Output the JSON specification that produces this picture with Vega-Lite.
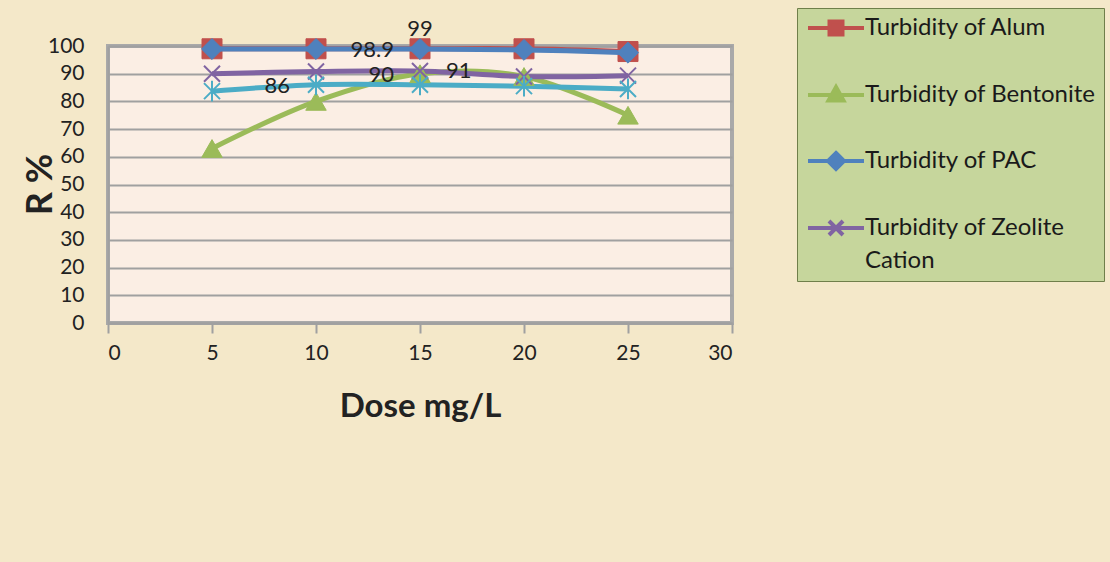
{
  "$schema": "https://vega.github.io/schema/vega-lite/v6.json",
  "width": 624,
  "height": 277,
  "autosize": {"type": "none"},
  "padding": {"left": 108, "top": 46, "right": 378, "bottom": 239},
  "background": "#f4e8c9",
  "config": {
    "font": "Lato",
    "view": {"fill": "#fbeee4", "stroke": "#a9a9a9", "strokeWidth": 4},
    "axis": {"labelFont": "Lato", "titleFont": "Lato", "labelColor": "#222222", "titleColor": "#222222"},
    "style": {"guide-label": {"lineHeight": 33}}
  },
  "data": {
    "values": [
      {"dose": 5, "series": "Turbidity of Alum", "r": 99, "labeled": false},
      {"dose": 10, "series": "Turbidity of Alum", "r": 99, "labeled": false},
      {"dose": 15, "series": "Turbidity of Alum", "r": 99, "labeled": true},
      {"dose": 20, "series": "Turbidity of Alum", "r": 99, "labeled": false},
      {"dose": 25, "series": "Turbidity of Alum", "r": 98, "labeled": false},
      {"dose": 5, "series": "Turbidity of Bentonite", "r": 63, "labeled": false},
      {"dose": 10, "series": "Turbidity of Bentonite", "r": 80, "labeled": false},
      {"dose": 15, "series": "Turbidity of Bentonite", "r": 90, "labeled": true},
      {"dose": 20, "series": "Turbidity of Bentonite", "r": 89, "labeled": false},
      {"dose": 25, "series": "Turbidity of Bentonite", "r": 75, "labeled": false},
      {"dose": 5, "series": "Turbidity of PAC", "r": 98.9, "labeled": false},
      {"dose": 10, "series": "Turbidity of PAC", "r": 98.9, "labeled": false},
      {"dose": 15, "series": "Turbidity of PAC", "r": 98.9, "labeled": true},
      {"dose": 20, "series": "Turbidity of PAC", "r": 98.6, "labeled": false},
      {"dose": 25, "series": "Turbidity of PAC", "r": 97.6, "labeled": false},
      {"dose": 5, "series": "Turbidity of Zeolite Cation", "r": 90, "labeled": false},
      {"dose": 10, "series": "Turbidity of Zeolite Cation", "r": 90.8, "labeled": false},
      {"dose": 15, "series": "Turbidity of Zeolite Cation", "r": 91, "labeled": true},
      {"dose": 20, "series": "Turbidity of Zeolite Cation", "r": 89, "labeled": false},
      {"dose": 25, "series": "Turbidity of Zeolite Cation", "r": 89.3, "labeled": false},
      {"dose": 5, "series": "Turbidity of Zeolite Anion", "r": 83.7, "labeled": false},
      {"dose": 10, "series": "Turbidity of Zeolite Anion", "r": 86, "labeled": true},
      {"dose": 15, "series": "Turbidity of Zeolite Anion", "r": 86, "labeled": false},
      {"dose": 20, "series": "Turbidity of Zeolite Anion", "r": 85.5, "labeled": false},
      {"dose": 25, "series": "Turbidity of Zeolite Anion", "r": 84.5, "labeled": false}
    ]
  },
  "encoding": {
    "x": {
      "field": "dose", "type": "quantitative",
      "scale": {"domain": [0, 30], "nice": false},
      "axis": {
        "title": "Dose mg/L", "values": [0, 5, 10, 15, 20, 25, 30],
        "grid": false, "domainColor": "#a0a0a0", "domainWidth": 2,
        "tickColor": "#a0a0a0", "tickWidth": 2, "tickSize": 10,
        "labelFontSize": 21, "labelPadding": 9,
        "titleFontSize": 33, "titleFontWeight": "bold", "titlePadding": 27
      }
    },
    "y": {
      "field": "r", "type": "quantitative",
      "scale": {"domain": [0, 100], "nice": false},
      "axis": {
        "title": "R %", "values": [0, 10, 20, 30, 40, 50, 60, 70, 80, 90, 100],
        "grid": true, "gridColor": "#a0a0a0", "gridWidth": 2,
        "domainColor": "#a0a0a0", "domainWidth": 2, "ticks": false,
        "labelFontSize": 21, "labelPadding": 24,
        "titleFontSize": 36, "titleFontWeight": "bold",
        "titleAngle": -90, "titleX": -68, "titleY": 138,
        "titleAlign": "center", "titleBaseline": "middle"
      }
    }
  },
  "layer": [
    {
      "transform": [{"filter": "datum.series == 'Turbidity of Alum'"}],
      "mark": {"type": "point", "shape": "square", "filled": true, "size": 400, "opacity": 1, "strokeWidth": 1},
      "encoding": {
        "color": {"field": "series", "type": "nominal",
          "scale": {"domain": ["Turbidity of Alum", "Turbidity of Bentonite", "Turbidity of PAC", "Turbidity of Zeolite Cation", "Turbidity of Zeolite Anion"],
                    "range": ["#c0504d", "#9bbb59", "#4f81bd", "#8064a2", "#4bacc6"]}},
        "stroke": {"field": "series", "type": "nominal",
          "scale": {"domain": ["Turbidity of Alum", "Turbidity of Bentonite", "Turbidity of PAC", "Turbidity of Zeolite Cation", "Turbidity of Zeolite Anion"],
                    "range": ["#c0504d", "#9bbb59", "#4f81bd", "#8064a2", "#4bacc6"]}}
      }
    },
    {
      "mark": {"type": "line", "interpolate": "cardinal", "strokeWidth": 5},
      "encoding": {
        "color": {"field": "series", "type": "nominal"}
      }
    },
    {
      "transform": [{"filter": "datum.series == 'Turbidity of Bentonite'"}],
      "mark": {"type": "point", "shape": "triangle-up", "filled": true, "size": 420, "opacity": 1, "strokeWidth": 1},
      "encoding": {
        "color": {"field": "series", "type": "nominal"},
        "stroke": {"field": "series", "type": "nominal"}
      }
    },
    {
      "transform": [{"filter": "datum.series == 'Turbidity of PAC'"}],
      "mark": {"type": "point", "shape": "diamond", "filled": true, "size": 440, "opacity": 1, "strokeWidth": 1},
      "encoding": {
        "color": {"field": "series", "type": "nominal"},
        "stroke": {"field": "series", "type": "nominal"}
      }
    },
    {
      "transform": [{"filter": "datum.series == 'Turbidity of Zeolite Cation'"}],
      "mark": {"type": "point", "shape": "M-1,-1L1,1M1,-1L-1,1", "filled": true, "size": 256, "opacity": 1, "strokeWidth": 2},
      "encoding": {
        "color": {"field": "series", "type": "nominal"},
        "stroke": {"field": "series", "type": "nominal"}
      }
    },
    {
      "transform": [{"filter": "datum.series == 'Turbidity of Zeolite Anion'"}],
      "mark": {"type": "point", "shape": "M-1,-1L1,1M1,-1L-1,1M0,-1.3V1.3", "filled": true, "size": 256, "opacity": 1, "strokeWidth": 2},
      "encoding": {
        "color": {"field": "series", "type": "nominal"},
        "stroke": {"field": "series", "type": "nominal"}
      }
    },
    {
      "transform": [{"filter": "datum.labeled && datum.series == 'Turbidity of Alum'"}],
      "mark": {"type": "text", "font": "Lato", "fontSize": 22, "color": "#222222", "dy": -20, "baseline": "middle"},
      "encoding": {"text": {"field": "r", "type": "quantitative"}}
    },
    {
      "transform": [{"filter": "datum.labeled && datum.series != 'Turbidity of Alum' && datum.series != 'Turbidity of Zeolite Cation'"}],
      "mark": {"type": "text", "font": "Lato", "fontSize": 22, "color": "#222222", "align": "right", "dx": -26, "dy": 1, "baseline": "middle"},
      "encoding": {"text": {"field": "r", "type": "quantitative"}}
    },
    {
      "transform": [{"filter": "datum.labeled && datum.series == 'Turbidity of Zeolite Cation'"}],
      "mark": {"type": "text", "font": "Lato", "fontSize": 22, "color": "#222222", "align": "left", "dx": 26, "baseline": "middle"},
      "encoding": {"text": {"field": "r", "type": "quantitative"}}
    },
    {
      "transform": [{"filter": "datum.r < 0"}],
      "mark": {"type": "point", "filled": true, "opacity": 1},
      "encoding": {
        "color": {"field": "series", "type": "nominal",
          "legend": {
            "values": ["Turbidity of Alum", "Turbidity of Bentonite", "Turbidity of PAC", "Turbidity of Zeolite Cation"],
            "title": null, "orient": "none", "legendX": 689, "legendY": -38,
            "direction": "vertical",
            "fillColor": "#c6d69c", "strokeColor": "#6f7f4a", "padding": 8,
            "rowPadding": 36,
            "labelFont": "Lato", "labelFontSize": 24, "labelColor": "#1a1a1a", "labelLimit": 400,
            "labelOffset": 17, "labelBaseline": "middle",
            "labelExpr": "datum.label == 'Turbidity of Zeolite Cation' ? ['Turbidity of Zeolite', 'Cation'] : datum.label",
            "symbolSize": 400, "symbolStrokeWidth": 4, "symbolOffset": 19
          }
        },
        "stroke": {"field": "series", "type": "nominal"},
        "shape": {"field": "series", "type": "nominal",
          "scale": {"domain": ["Turbidity of Alum", "Turbidity of Bentonite", "Turbidity of PAC", "Turbidity of Zeolite Cation", "Turbidity of Zeolite Anion"],
                    "range": [
                      "M-2.8,0H2.8M-0.65,-0.65H0.65V0.65H-0.65Z",
                      "M-2.8,0H2.8M0,-0.8L0.75,0.55H-0.75Z",
                      "M-2.8,0H2.8M0,-0.8L0.8,0L0,0.8L-0.8,0Z",
                      "M-2.8,0H2.8M-0.7,-0.7L0.7,0.7M0.7,-0.7L-0.7,0.7",
                      "M-2.8,0H2.8M-0.6,-0.6L0.6,0.6M0.6,-0.6L-0.6,0.6M0,-0.8V0.8"
                    ]}
        }
      }
    }
  ]
}
